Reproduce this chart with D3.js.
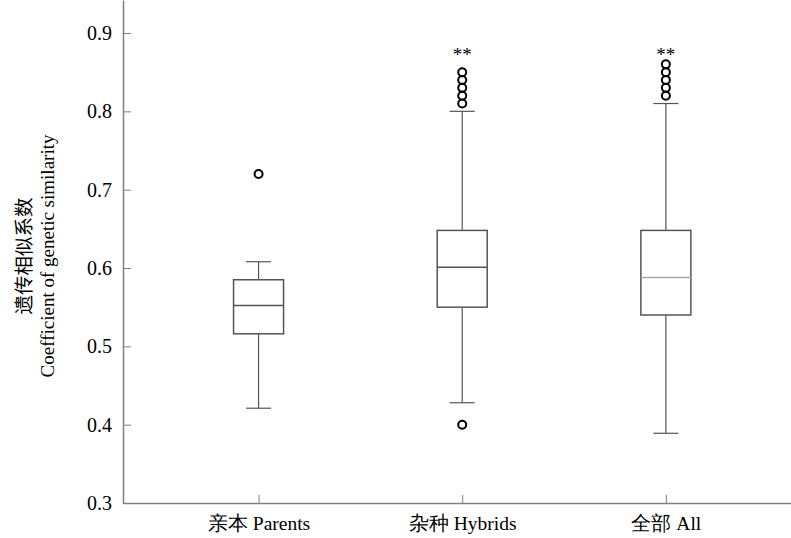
<!DOCTYPE html>
<html>
<head>
<meta charset="utf-8">
<script src="https://cdn.jsdelivr.net/npm/d3@7"></script>
<style>
  html, body { margin: 0; padding: 0; background: #fff; }
  svg { display: block; }
  text { font-family: "Liberation Serif", "Times New Roman", serif; fill: #000; }
</style>
</head>
<body>
<svg id="chart" width="791" height="538"></svg>
<script>
const categories = ["亲本 Parents", "杂种 Hybrids", "全部 All"];
const whiskerLow  = [0.421, 0.428, 0.389];
const q1          = [0.516, 0.550, 0.540];
const median      = [0.552, 0.601, 0.588];
const q3          = [0.585, 0.648, 0.648];
const whiskerHigh = [0.608, 0.800, 0.810];
const outliers    = [[0.72], [0.40, 0.81, 0.82, 0.83, 0.84, 0.85], [0.82, 0.83, 0.84, 0.85, 0.86]];
const significance = ["", "**", "**"];
const yTicks = [0.3, 0.4, 0.5, 0.6, 0.7, 0.8, 0.9];
const yTitleCN = "遗传相似系数";
const yTitleEN = "Coefficient of genetic similarity";

const svg = d3.select("#chart");
const plotLeft = 123, plotRight = 791, plotTop = 0, plotBottom = 503;

const y = d3.scaleLinear().domain([0.3, 0.9 + 33 / 783]).range([plotBottom, plotTop]);
const x = d3.scalePoint().domain(categories).range([plotLeft, plotRight]).padding(0.64).align(0.52);

const axisColor = "#808080";
const boxColor = "#555";

// Y axis
const gy = svg.append("g").attr("transform", `translate(${plotLeft},0)`)
  .call(d3.axisLeft(y).tickValues(yTicks).tickFormat(d3.format(".1f"))
        .tickSizeInner(-8).tickSizeOuter(0).tickPadding(11));
gy.select(".domain").attr("stroke", axisColor).attr("stroke-width", 1.5);
gy.selectAll(".tick line").attr("stroke", axisColor).attr("stroke-width", 1);
gy.selectAll(".tick text").attr("font-size", 20).attr("font-family", "Liberation Serif");

// X axis
const gx = svg.append("g").attr("transform", `translate(0,${plotBottom})`)
  .call(d3.axisBottom(x).tickSizeInner(-8).tickSizeOuter(0).tickPadding(13));
gx.select(".domain").attr("stroke", axisColor).attr("stroke-width", 1.5);
gx.selectAll(".tick line").attr("stroke", axisColor).attr("stroke-width", 1);
gx.selectAll(".tick text").attr("font-size", 19.5).attr("font-family", "Liberation Serif");

// Y title
const ty = svg.append("text")
  .attr("transform", `translate(0,256) rotate(-90)`)
  .attr("text-anchor", "middle");
ty.append("tspan").attr("x", 0).attr("y", 31).attr("font-size", 19.5)
  .attr("font-family", "Noto Sans CJK SC").text(yTitleCN);
ty.append("tspan").attr("x", 0).attr("y", 54).attr("font-size", 19).text(yTitleEN);

const boxW = 50, capW = 25, sigBaseline = 61;
categories.forEach((c, i) => {
  const cx = x(c);
  const g = svg.append("g");
  g.append("line").attr("x1", cx).attr("x2", cx).attr("y1", y(q3[i])).attr("y2", y(whiskerHigh[i]))
    .attr("stroke", boxColor).attr("stroke-width", 1.2);
  g.append("line").attr("x1", cx).attr("x2", cx).attr("y1", y(q1[i])).attr("y2", y(whiskerLow[i]))
    .attr("stroke", boxColor).attr("stroke-width", 1.2);
  g.append("line").attr("x1", cx - capW / 2).attr("x2", cx + capW / 2)
    .attr("y1", y(whiskerHigh[i])).attr("y2", y(whiskerHigh[i]))
    .attr("stroke", boxColor).attr("stroke-width", 1.2);
  g.append("line").attr("x1", cx - capW / 2).attr("x2", cx + capW / 2)
    .attr("y1", y(whiskerLow[i])).attr("y2", y(whiskerLow[i]))
    .attr("stroke", boxColor).attr("stroke-width", 1.2);
  g.append("rect").attr("x", cx - boxW / 2).attr("width", boxW)
    .attr("y", y(q3[i])).attr("height", y(q1[i]) - y(q3[i]))
    .attr("fill", "#fff").attr("stroke", boxColor).attr("stroke-width", 1.5);
  g.append("line").attr("x1", cx - boxW / 2).attr("x2", cx + boxW / 2)
    .attr("y1", y(median[i])).attr("y2", y(median[i]))
    .attr("stroke", i === 2 ? "#aaa" : boxColor).attr("stroke-width", 1.5);
  g.selectAll("circle.o").data(outliers[i]).join("circle")
    .attr("cx", cx).attr("cy", d => y(d)).attr("r", 4)
    .attr("fill", "none").attr("stroke", "#000").attr("stroke-width", 2);
  if (significance[i]) {
    g.append("text").attr("x", cx).attr("y", sigBaseline)
      .attr("text-anchor", "middle").attr("font-size", 19).text(significance[i]);
  }
});
</script>
</body>
</html>
